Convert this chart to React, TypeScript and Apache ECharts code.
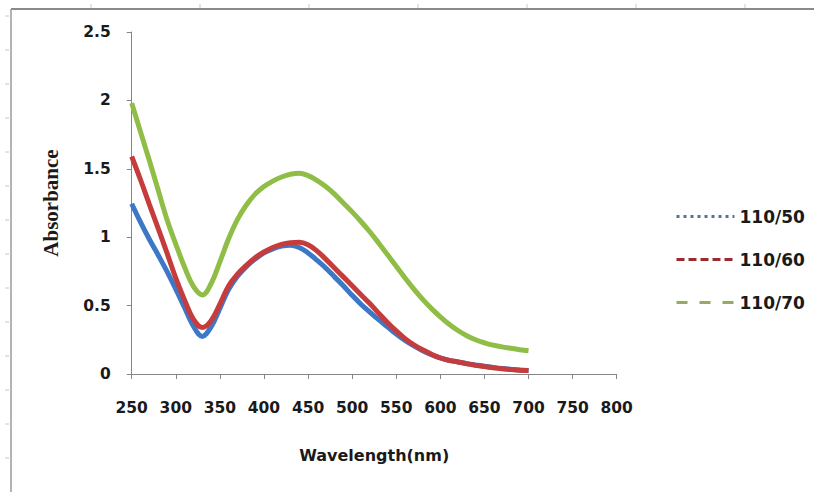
import React, { useEffect, useRef } from "react";
import * as echarts from "echarts";

const wavelengths = [
  250, 260, 270, 280, 290, 300, 310, 320, 330, 340, 350, 360, 370, 380, 390,
  400, 410, 420, 430, 440, 450, 460, 470, 480, 490, 500, 510, 520, 530, 540,
  550, 560, 570, 580, 590, 600, 610, 620, 630, 640, 650, 660, 670, 680, 690, 700,
];

const abs110_50 = [
  1.245, 1.11, 0.985, 0.87, 0.75, 0.62, 0.485, 0.35, 0.275, 0.345, 0.48, 0.62, 0.715, 0.785, 0.84,
  0.885, 0.915, 0.935, 0.942, 0.925, 0.885, 0.832, 0.775, 0.71, 0.645, 0.575, 0.51, 0.452, 0.397, 0.345,
  0.292, 0.245, 0.205, 0.17, 0.141, 0.118, 0.1, 0.088, 0.076, 0.066, 0.057, 0.048, 0.04, 0.034, 0.029, 0.025,
];

const abs110_60 = [
  1.59, 1.42, 1.24, 1.065, 0.885, 0.7, 0.54, 0.4, 0.34, 0.39, 0.51, 0.645, 0.73, 0.795, 0.85,
  0.892, 0.925, 0.948, 0.96, 0.963, 0.945, 0.9, 0.84, 0.775, 0.71, 0.645, 0.58, 0.515, 0.445, 0.377,
  0.315, 0.258, 0.213, 0.177, 0.145, 0.117, 0.1, 0.088, 0.075, 0.063, 0.054, 0.046, 0.038, 0.033, 0.028, 0.025,
];

const abs110_70 = [
  1.98, 1.77, 1.56, 1.345, 1.13, 0.95, 0.78, 0.64, 0.578, 0.66, 0.82, 0.99, 1.13, 1.235, 1.315,
  1.37, 1.41, 1.44, 1.46, 1.467, 1.45, 1.415, 1.37, 1.315, 1.25, 1.185, 1.115, 1.04, 0.958, 0.873,
  0.787, 0.702, 0.62, 0.545, 0.478, 0.418, 0.364, 0.318, 0.28, 0.25, 0.228, 0.211, 0.198, 0.188, 0.178, 0.17,
];

const seriesNames = ["110/50", "110/60", "110/70"];
const seriesValues = [abs110_50, abs110_60, abs110_70];
const lineColors = ["#3d78c6", "#c63b3c", "#8fbd45"];
const legendColors = ["#52729f", "#9a2c30", "#93ab62"];
const legendDash: number[][] = [[3, 4], [8, 4], [11, 12]];

const leftFrameTicks = [16, 50, 84, 118, 152, 186, 220, 254, 288, 322, 356, 390, 424, 458];
const topFrameTicks = [91, 200, 309, 418, 527, 636, 745];

export default function App() {
  const ref = useRef<HTMLDivElement>(null);

  useEffect(() => {
    if (!ref.current) return;
    const chart = echarts.init(ref.current, null, { renderer: "svg" });

    const series = seriesNames.map((name, i) => ({
      name,
      type: "line",
      data: wavelengths.map((w, j) => [w, seriesValues[i][j]]),
      symbol: "none",
      showSymbol: false,
      smooth: 0.4,
      lineStyle: { color: lineColors[i], width: 5 },
      itemStyle: { color: lineColors[i] },
      z: 2 + i,
    }));

    const graphics: any[] = [
      {
        type: "line",
        shape: { x1: 11, y1: 9, x2: 814, y2: 9 },
        style: { stroke: "#8a8a8a", lineWidth: 2 },
      },
      {
        type: "line",
        shape: { x1: 11, y1: 9, x2: 11, y2: 492 },
        style: { stroke: "#9a9a9a", lineWidth: 1.5 },
      },
      ...leftFrameTicks.map((y) => ({
        type: "line",
        shape: { x1: 5, y1: y, x2: 9, y2: y },
        style: { stroke: "#c8c8c8", lineWidth: 1 },
      })),
      ...topFrameTicks.map((x) => ({
        type: "line",
        shape: { x1: x, y1: 4, x2: x, y2: 8 },
        style: { stroke: "#c8c8c8", lineWidth: 1 },
      })),
    ];

    chart.setOption({
      animation: false,
      backgroundColor: "#ffffff",
      grid: { left: 131.7, right: 814 - 616.7, top: 32, bottom: 492 - 374, containLabel: false },
      legend: {
        orient: "vertical",
        left: 670,
        top: 203,
        itemWidth: 58,
        itemHeight: 14,
        itemGap: 26,
        itemStyle: { opacity: 0 },
        textStyle: {
          fontFamily: "DejaVu Sans",
          fontWeight: "bold",
          fontSize: 17,
          color: "#1a1a1a",
        },
        data: seriesNames.map((name, i) => ({
          name,
          lineStyle: { color: legendColors[i], width: 3, type: legendDash[i] },
          itemStyle: { color: legendColors[i], opacity: 0 },
        })),
      },
      xAxis: {
        type: "value",
        min: 250,
        max: 800,
        interval: 50,
        name: "Wavelength(nm)",
        nameLocation: "middle",
        nameGap: 73,
        nameTextStyle: {
          fontFamily: "DejaVu Sans",
          fontWeight: "bold",
          fontSize: 16,
          color: "#1a1a1a",
        },
        axisLine: { lineStyle: { color: "#868686", width: 1 } },
        axisTick: { show: true, length: 5, lineStyle: { color: "#868686" } },
        axisLabel: {
          margin: 26,
          fontFamily: "DejaVu Sans",
          fontWeight: "bold",
          fontSize: 15.5,
          color: "#1a1a1a",
        },
        splitLine: { show: false },
      },
      yAxis: {
        type: "value",
        min: 0,
        max: 2.5,
        interval: 0.5,
        name: "Absorbance",
        nameLocation: "middle",
        nameGap: 70,
        nameRotate: 90,
        nameTextStyle: {
          fontFamily: "Liberation Serif",
          fontWeight: "bold",
          fontSize: 21,
          color: "#1a1a1a",
        },
        axisLine: { show: true, lineStyle: { color: "#868686", width: 1 } },
        axisTick: { show: true, length: 5, lineStyle: { color: "#868686" } },
        axisLabel: {
          margin: 21,
          fontFamily: "DejaVu Sans",
          fontWeight: "bold",
          fontSize: 15.5,
          color: "#1a1a1a",
        },
        splitLine: { show: false },
      },
      series,
      graphic: graphics,
    });

    return () => chart.dispose();
  }, []);

  return (
    <div
      ref={ref}
      style={{ position: "fixed", left: 0, top: 0, width: 814, height: 492 }}
    />
  );
}
